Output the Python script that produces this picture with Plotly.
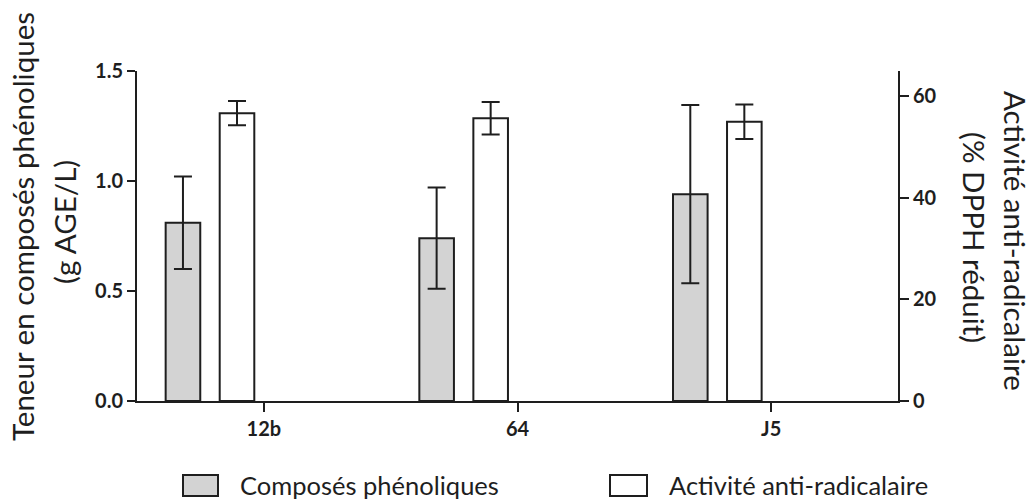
import plotly.graph_objects as go

# ---- data ----
categories = ["12b", "64", "J5"]
phenol_mean = [0.81, 0.74, 0.94]
phenol_err = [0.21, 0.23, 0.405]
activity_mean = [56.7, 55.7, 55.0]
activity_err = [2.4, 3.2, 3.4]
series_names = ["Composés phénoliques", "Activité anti-radicalaire"]
left_title = ["Teneur en composés phénoliques", "(g AGE/L)"]
right_title = ["Activité anti-radicalaire", "(% DPPH réduit)"]
left_ticks = [0.0, 0.5, 1.0, 1.5]
right_ticks = [0, 20, 40, 60]

# ---- layout geometry (pixels) ----
W, H = 1032, 499
PL, PR, PT, PB = 137, 898, 71, 401   # plot area edges
FONT = "Lato"
INK = "#1e1e1e"
GRAY = "#d3d3d3"


def px(x):
    return (x - PL) / (PR - PL)


def py(y):
    return (PB - y) / (PB - PT)


bar_w = 0.1364
fig = go.Figure()
fig.add_trace(go.Bar(
    x=categories, y=phenol_mean, name=series_names[0],
    width=bar_w, offset=-0.387,
    marker=dict(color=GRAY, line=dict(color=INK, width=2)),
    error_y=dict(type="data", array=phenol_err, color=INK, thickness=2, width=9),
    yaxis="y", showlegend=False,
))
fig.add_trace(go.Bar(
    x=categories, y=activity_mean, name=series_names[1],
    width=bar_w, offset=-0.174,
    marker=dict(color="white", line=dict(color=INK, width=2)),
    error_y=dict(type="data", array=activity_err, color=INK, thickness=2, width=9),
    yaxis="y2", showlegend=False,
))

tickfont = dict(family=FONT, size=20, color=INK, weight="bold")
axis_common = dict(showline=True, linecolor=INK, linewidth=2, showgrid=False,
                   zeroline=False, ticks="outside", tickcolor=INK, tickwidth=2,
                   tickfont=tickfont)

fig.update_layout(
    width=W, height=H,
    margin=dict(l=PL, r=W - PR, t=PT, b=H - PB, pad=0),
    paper_bgcolor="white", plot_bgcolor="white",
    barmode="overlay",
    xaxis=dict(type="category", range=[-0.5, 2.5], ticklen=9, **axis_common),
    yaxis=dict(range=[0, 1.5], tickvals=left_ticks, tickformat=".1f", ticklen=8,
               **axis_common),
    yaxis2=dict(range=[0, 65], tickvals=right_ticks, overlaying="y", side="right",
                ticklen=9, **axis_common),
    font=dict(family=FONT, color=INK),
)

title_font = dict(family=FONT, size=29.5, color=INK)
ann = [
    dict(text=left_title[0], x=px(22), y=py(227), textangle=-90),
    dict(text=left_title[1], x=px(65), y=py(222), textangle=-90),
    dict(text=right_title[0], x=px(1016), y=py(241), textangle=90),
    dict(text=right_title[1], x=px(975), y=py(238), textangle=90),
]
for a in ann:
    fig.add_annotation(xref="paper", yref="paper", showarrow=False,
                       xanchor="center", yanchor="middle", font=title_font, **a)

# ---- legend (swatches + labels) ----
legend_items = [(183, 218, 238, GRAY), (610, 647, 667, "white")]
for (x0, x1, tx, col), name in zip(legend_items, series_names):
    fig.add_shape(type="rect", xref="paper", yref="paper",
                  x0=px(x0), x1=px(x1), y0=py(496), y1=py(475),
                  fillcolor=col, line=dict(color=INK, width=2))
    fig.add_annotation(xref="paper", yref="paper", showarrow=False,
                       x=px(tx), y=py(485), xanchor="left", yanchor="middle",
                       text=name, font=dict(family=FONT, size=25.5, color=INK))

fig.write_html(
    "out.html",
    config={"displayModeBar": False},
    post_script="document.body.style.margin='0';document.body.style.overflow='hidden';",
)
